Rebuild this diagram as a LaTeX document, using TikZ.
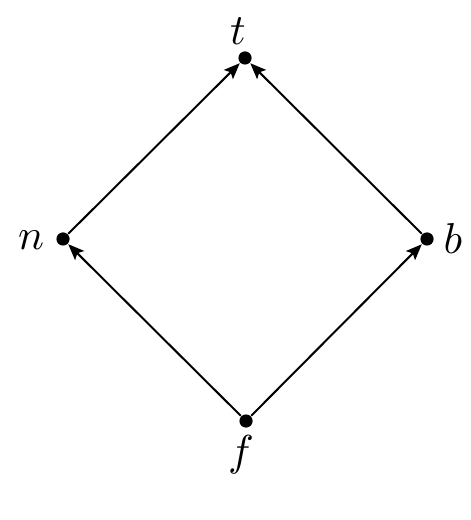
\documentclass[tikz,border=0pt]{standalone}
\usetikzlibrary{arrows.meta}
\begin{document}
\begin{tikzpicture}[x=0.25pt,y=-0.25pt,
  dot/.style={circle,fill=black,inner sep=0pt,minimum size=3.3pt},
  lab/.style={inner sep=0pt,scale=1.08},
  edge/.style={line width=0.5pt,-{Stealth[length=4pt,width=3.2pt,inset=0.8pt]}}]
\useasboundingbox (0,0) rectangle (470,520);
\node[dot] (t) at (245,58) {};
\node[dot] (n) at (63,239) {};
\node[dot] (b) at (427,239) {};
\node[dot] (f) at (246,421) {};
\node[lab] (tl) at (238,31) {$t$};
\node[lab] (nl) at (31,240) {$n$};
\node[lab] (bl) at (453,239) {$b$};
\node[lab] (fl) at (241,455) {$f$};
\draw[edge] (n) -- (t);
\draw[edge] (b) -- (t);
\draw[edge] (f) -- (n);
\draw[edge] (f) -- (b);
\end{tikzpicture}
\end{document}
